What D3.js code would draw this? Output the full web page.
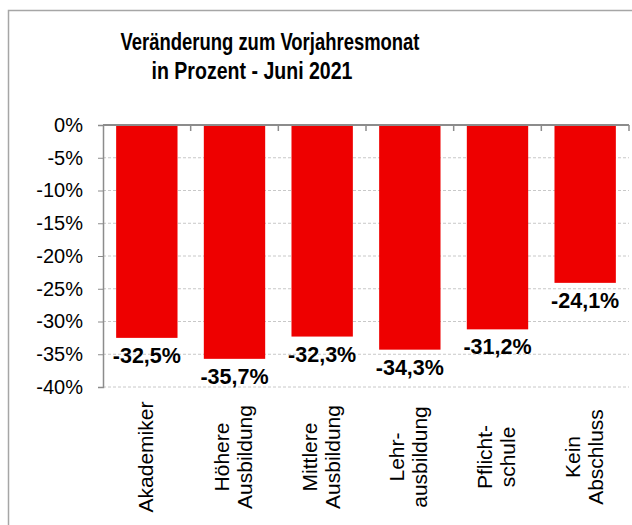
<!DOCTYPE html>
<html>
<head>
<meta charset="utf-8">
<script src="https://cdn.jsdelivr.net/npm/d3@7"></script>
<style>
    body { margin: 0; background: #fff; }
    text { font-family: "Liberation Sans", Arial, sans-serif; fill: #000; }
</style>
</head>
<body>
<div id="chart"></div>
<script>
// chart data
const titleLines = ["Veränderung zum Vorjahresmonat", "in Prozent - Juni 2021"]
const categories = ["Akademiker", "Höhere\nAusbildung", "Mittlere\nAusbildung", "Lehr-\nausbildung", "Pflicht-\nschule", "Kein\nAbschluss"]
const values = [-32.5, -35.7, -32.3, -34.3, -31.2, -24.1]
const yTicks = [0, -5, -10, -15, -20, -25, -30, -35, -40]

// german number format, plain hyphen as minus
const fmt = v => v.toFixed(1).replace(".", ",") + "%"

const W = 632, H = 525
const margin = {top: 125, left: 103, right: 3, bottom: 138}
const width = W - margin.left - margin.right

const svg = d3.select("#chart").append("svg")
    .attr("width", W)
    .attr("height", H)

// outer frame (runs off the right and bottom edge)
svg.append("path")
    .attr("d", "M8.5," + (H + 5) + "V10.5H" + (W + 5))
    .attr("fill", "none")
    .attr("stroke", "#a6a6a6")
    .attr("stroke-width", 1.5)

// title
const titleX = [270, 252], titleY = [50, 79], titleLen = [299, 201]
svg.selectAll("text.title").data(titleLines).enter().append("text")
    .attr("class", "title")
    .attr("x", (d, i) => titleX[i])
    .attr("y", (d, i) => titleY[i])
    .attr("text-anchor", "middle")
    .attr("font-size", 24)
    .attr("font-weight", "bold")
    .attr("textLength", (d, i) => titleLen[i])
    .attr("lengthAdjust", "spacingAndGlyphs")
    .text(d => d)

const g = svg.append("g")
    .attr("transform", "translate(" + margin.left + "," + margin.top + ")")

// scales
const x = d3.scaleBand()
    .domain(categories)
    .range([0, width])
    .paddingInner(0.3)
    .paddingOuter(0.15)

const y = d3.scaleLinear()
    .domain([0, -40])
    .range([0, 262])

// grid lines
g.selectAll("line.grid").data(yTicks.filter(d => d !== 0)).enter().append("line")
    .attr("class", "grid")
    .attr("x1", 0)
    .attr("x2", width)
    .attr("y1", d => y(d))
    .attr("y2", d => y(d))
    .attr("stroke", "#c8c8c8")
    .attr("stroke-width", 1)
    .attr("stroke-dasharray", "3,2")

// y axis
const yAxis = d3.axisLeft(y)
    .tickValues(yTicks)
    .tickSize(5)
    .tickPadding(15)
    .tickFormat(d => d + "%")

const yG = g.append("g").call(yAxis)
yG.select(".domain").attr("stroke", "#8c8c8c").attr("stroke-width", 1.5)
yG.selectAll(".tick line").attr("stroke", "#8c8c8c")
yG.selectAll(".tick text")
    .attr("font-size", 20)
    .attr("font-family", "Liberation Sans, Arial, sans-serif")
    .attr("fill", "#000")

// bars
g.selectAll("rect.bar").data(values).enter().append("rect")
    .attr("class", "bar")
    .attr("x", (d, i) => x(categories[i]))
    .attr("y", 0)
    .attr("width", x.bandwidth())
    .attr("height", d => y(d))
    .attr("fill", "#ee0000")

// value labels
g.selectAll("text.value").data(values).enter().append("text")
    .attr("class", "value")
    .attr("x", (d, i) => x(categories[i]) + x.bandwidth() / 2)
    .attr("y", d => y(d) + 25)
    .attr("text-anchor", "middle")
    .attr("font-size", 21.5)
    .attr("font-weight", "bold")
    .text(fmt)

// category axis along 0 with ticks at band edges
g.append("line")
    .attr("x1", 0).attr("x2", width)
    .attr("y1", 0).attr("y2", 0)
    .attr("stroke", "#8c8c8c")
    .attr("stroke-width", 2)

g.selectAll("line.xtick").data(d3.range(1, categories.length + 1)).enter().append("line")
    .attr("class", "xtick")
    .attr("x1", i => i * x.step())
    .attr("x2", i => i * x.step())
    .attr("y1", 0)
    .attr("y2", 6)
    .attr("stroke", "#8c8c8c")
    .attr("stroke-width", 1.5)

// rotated category labels
const lineH = 23
const catG = g.selectAll("g.cat").data(categories).enter().append("g")
    .attr("class", "cat")
    .attr("transform", d => "translate(" + (x(d) + x.bandwidth() / 2) + "," + 332 + ") rotate(-90)")

catG.each(function(d) {
    const lines = d.split("\n")
    d3.select(this).selectAll("text").data(lines).enter().append("text")
        .attr("x", 0)
        .attr("y", (l, i) => 6 + (i - (lines.length - 1) / 2) * lineH)
        .attr("text-anchor", "middle")
        .attr("font-size", 21)
        .text(l => l)
})
</script>
</body>
</html>
